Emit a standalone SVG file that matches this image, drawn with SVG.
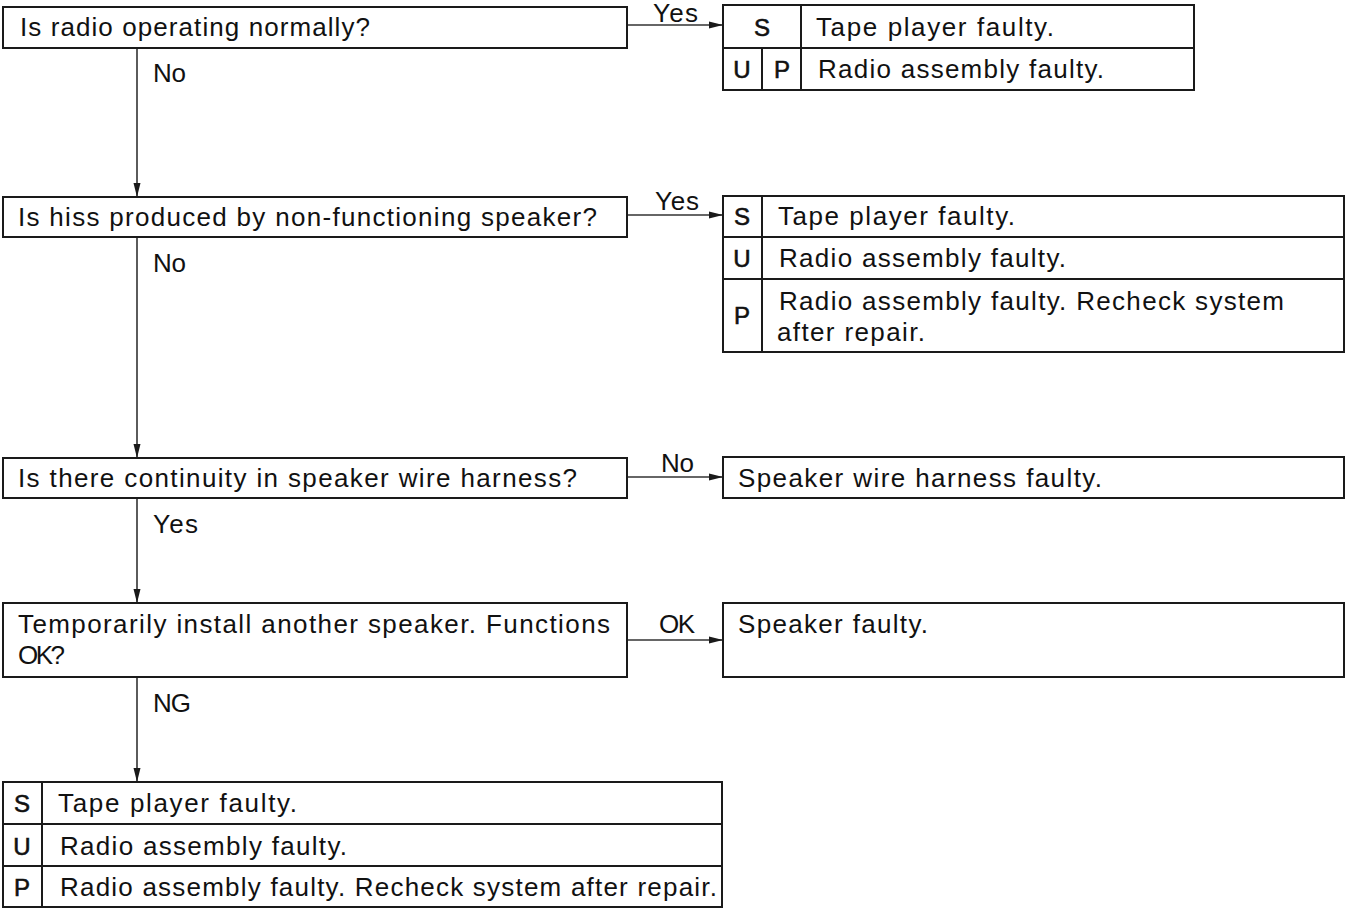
<svg xmlns="http://www.w3.org/2000/svg" width="1345" height="908" viewBox="0 0 1345 908">
<style>
.box{fill:#fff;stroke:#1a1a1a;stroke-width:2}
.ln{stroke:#1a1a1a;stroke-width:2;fill:none}
.con{stroke:#333;stroke-width:1.6;fill:none;marker-end:url(#ah)}
text{font-family:"Liberation Sans",Arial,sans-serif;font-size:26px;fill:#111}
.c{text-anchor:middle;font-size:24px;stroke:#111;stroke-width:0.6}
</style>
<defs>
<marker id="ah" markerUnits="userSpaceOnUse" markerWidth="15" markerHeight="8" refX="14" refY="4" orient="auto">
<path d="M0,0.5 L14,4 L0,7.5 z" fill="#1a1a1a"/>
</marker>
</defs>
<rect width="1345" height="908" fill="#fff"/>
<g id="connectors">
<line class="con" x1="137" y1="48" x2="137" y2="197"/>
<line class="con" x1="137" y1="237" x2="137" y2="458"/>
<line class="con" x1="137" y1="498" x2="137" y2="603"/>
<line class="con" x1="137" y1="677" x2="137" y2="782"/>
<line class="con" x1="627" y1="25" x2="723" y2="25"/>
<line class="con" x1="627" y1="215" x2="723" y2="215"/>
<line class="con" x1="627" y1="477" x2="723" y2="477"/>
<line class="con" x1="627" y1="640" x2="723" y2="640"/>
<text x="153" y="82" textLength="33">No</text>
<text x="653" y="22" textLength="45">Yes</text>
<text x="153" y="272" textLength="33">No</text>
<text x="655" y="210" textLength="44">Yes</text>
<text x="153" y="533" textLength="45">Yes</text>
<text x="661" y="472" textLength="33">No</text>
<text x="659" y="633" textLength="36">OK</text>
<text x="153" y="712" textLength="38">NG</text>
</g>
<g id="q1">
<rect class="box" x="3" y="7" width="624" height="41"/>
<text x="20" y="36" textLength="350">Is radio operating normally?</text>
</g>
<g id="r1">
<rect class="box" x="723" y="5" width="471" height="85"/>
<line class="ln" x1="723" y1="48" x2="1194" y2="48"/>
<line class="ln" x1="801" y1="5" x2="801" y2="90"/>
<line class="ln" x1="762" y1="48" x2="762" y2="90"/>
<text class="c" x="762" y="36">S</text>
<text x="816" y="36" textLength="238">Tape player faulty.</text>
<text class="c" x="742" y="78">U</text>
<text class="c" x="782" y="78">P</text>
<text x="818" y="78" textLength="286">Radio assembly faulty.</text>
</g>
<g id="q2">
<rect class="box" x="3" y="197" width="624" height="40"/>
<text x="18" y="226" textLength="579">Is hiss produced by non-functioning speaker?</text>
</g>
<g id="r2">
<rect class="box" x="723" y="196" width="621" height="156"/>
<line class="ln" x1="723" y1="237" x2="1344" y2="237"/>
<line class="ln" x1="723" y1="279" x2="1344" y2="279"/>
<line class="ln" x1="762" y1="196" x2="762" y2="352"/>
<text class="c" x="742" y="225">S</text>
<text x="778" y="225" textLength="237">Tape player faulty.</text>
<text class="c" x="742" y="267">U</text>
<text x="779" y="267" textLength="287">Radio assembly faulty.</text>
<text class="c" x="742" y="324">P</text>
<text x="779" y="310" textLength="505">Radio assembly faulty. Recheck system</text>
<text x="777" y="341" textLength="148">after repair.</text>
</g>
<g id="q3">
<rect class="box" x="3" y="458" width="624" height="40"/>
<text x="18" y="487" textLength="559">Is there continuity in speaker wire harness?</text>
</g>
<g id="r3">
<rect class="box" x="723" y="457" width="621" height="41"/>
<text x="738" y="487" textLength="364">Speaker wire harness faulty.</text>
</g>
<g id="q4">
<rect class="box" x="3" y="603" width="624" height="74"/>
<text x="18" y="633" textLength="592">Temporarily install another speaker. Functions</text>
<text x="18" y="664" textLength="47">OK?</text>
</g>
<g id="r4">
<rect class="box" x="723" y="603" width="621" height="74"/>
<text x="738" y="633" textLength="190">Speaker faulty.</text>
</g>
<g id="r5">
<rect class="box" x="3" y="782" width="719" height="125"/>
<line class="ln" x1="3" y1="824" x2="722" y2="824"/>
<line class="ln" x1="3" y1="866" x2="722" y2="866"/>
<line class="ln" x1="42" y1="782" x2="42" y2="907"/>
<text class="c" x="22" y="812">S</text>
<text x="58" y="812" textLength="239">Tape player faulty.</text>
<text class="c" x="22" y="855">U</text>
<text x="60" y="855" textLength="287">Radio assembly faulty.</text>
<text class="c" x="22" y="896">P</text>
<text x="60" y="896" textLength="657">Radio assembly faulty. Recheck system after repair.</text>
</g>
</svg>
